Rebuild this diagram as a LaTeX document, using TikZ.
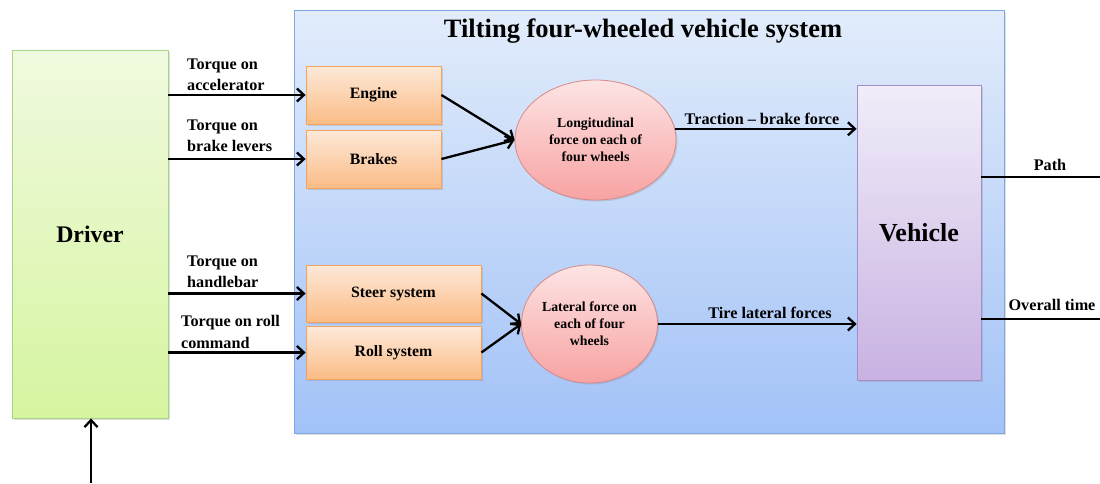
\documentclass[tikz,border=0pt]{standalone}
\usepackage{fontspec}
\setmainfont{Liberation Serif}
\usetikzlibrary{arrows.meta,shapes.geometric,shadows}
\definecolor{drvtop}{HTML}{F0FADF}
\definecolor{drvbot}{HTML}{D6F5A0}
\definecolor{drvline}{HTML}{ABD385}
\definecolor{systop}{HTML}{E2ECFB}
\definecolor{sysbot}{HTML}{A2C2F7}
\definecolor{sysline}{HTML}{7EA6E0}
\definecolor{subtop}{HTML}{FDE9D9}
\definecolor{subbot}{HTML}{FBBC86}
\definecolor{subline}{HTML}{F3A35E}
\definecolor{elltop}{HTML}{FDE4E4}
\definecolor{ellbot}{HTML}{F8A2A2}
\definecolor{ellline}{HTML}{D88A8A}
\definecolor{vehtop}{HTML}{F1EDF9}
\definecolor{vehbot}{HTML}{C8B2E2}
\definecolor{vehline}{HTML}{A38EC8}
\tikzset{
  arr/.style={line width=2.3pt, -{Straight Barb[length=7pt,width=13pt,line width=2.3pt]}},
  link/.style={line width=2.3pt},
  boxshadow/.style={drop shadow={opacity=0.25,shadow xshift=1.5pt,shadow yshift=-1.5pt}},
  subsys/.style={draw=subline, line width=0.8pt, top color=subtop, bottom color=subbot,
    minimum width=135pt, minimum height=58pt, inner sep=0pt, boxshadow,
    font=\fontsize{15.8}{18}\selectfont\bfseries},
  force/.style={ellipse, draw=ellline, line width=0.8pt, top color=elltop, bottom color=ellbot,
    inner sep=0pt, align=center, boxshadow, font=\fontsize{13.8}{17}\selectfont\bfseries},
  lbl/.style={align=left, inner sep=0pt, font=\fontsize{16.2}{21.5}\selectfont\bfseries},
}
\begin{document}
\begin{tikzpicture}[x=1pt,y=-1pt]
\useasboundingbox (0,0) rectangle (1100,483);

% outer system frame
\node[draw=sysline, line width=0.8pt, top color=systop, bottom color=sysbot,
      minimum width=710pt, minimum height=423pt, inner sep=0pt, boxshadow] (sys) at (649,221.5) {};
\node[font=\fontsize{26.5}{30}\selectfont\bfseries] (title) at (643,31) {Tilting four-wheeled vehicle system};

% driver block
\node[draw=drvline, line width=0.8pt, top color=drvtop, bottom color=drvbot,
      minimum width=156pt, minimum height=368pt, inner sep=0pt, boxshadow,
      font=\fontsize{23.8}{28}\selectfont\bfseries] (driver) at (90,234) {Driver};

% subsystems
\node[subsys] (engine) at (373.5,95) {Engine};
\node[subsys] (brakes) at (373.5,159) {Brakes};
\node[subsys, minimum width=175pt, minimum height=57pt] (steer) at (393.5,293.5) {Steer system};
\node[subsys, minimum width=175pt, minimum height=53pt] (roll) at (393.5,352.5) {Roll system};

% force ellipses
\node[force, minimum width=161pt, minimum height=120pt] (long) at (595.5,140)
  {Longitudinal\\force on each of\\four wheels};
\node[force, minimum width=136pt, minimum height=118pt] (lat) at (589.5,324)
  {Lateral force on\\each of four\\wheels};

% vehicle block
\node[draw=vehline, line width=0.8pt, top color=vehtop, bottom color=vehbot,
      minimum width=124pt, minimum height=295pt, inner sep=0pt, boxshadow,
      font=\fontsize{26}{30}\selectfont\bfseries] (vehicle) at (919,232.5) {Vehicle};

% driver commands
\draw[arr] (driver.east |- engine.west) -- (engine.west);
\draw[arr] (driver.east |- brakes.west) -- (brakes.west);
\draw[arr] (driver.east |- steer.west) -- (steer.west);
\draw[arr] (driver.east |- roll.west) -- (roll.west);
\node[lbl, anchor=west] (l1) at (187,75) {Torque on\\accelerator};
\node[lbl, anchor=west] (l2) at (187,136) {Torque on\\brake levers};
\node[lbl, anchor=west] (l3) at (187,272) {Torque on\\handlebar};
\node[lbl, anchor=west] (l4) at (181,332) {Torque on roll\\command};

% subsystems to forces
\draw[arr] (engine.east) -- (long.west);
\draw[arr] (brakes.east) -- (long.west);
\draw[arr] (steer.east) -- (lat.west);
\draw[arr] (roll.east) -- (lat.west);

% forces to vehicle
\draw[arr] (long.8) -- (long.8 -| vehicle.west);
\node[lbl] (tb) at (762,119) {Traction -- brake force};
\draw[arr] (lat.east) -- (lat.east -| vehicle.west);
\node[lbl] (tl) at (770,313) {Tire lateral forces};

% outputs
\coordinate (pathend) at (1100,177);
\coordinate (timeend) at (1100,319);
\draw[link] (vehicle.east |- pathend) -- (pathend);
\draw[link] (vehicle.east |- timeend) -- (timeend);
\node[lbl] (po) at (1050,165) {Path};
\node[lbl] (to) at (1052,305) {Overall time};

% external input to driver
\coordinate (drvin) at (91,483);
\draw[arr] (drvin) -- (drvin |- driver.south);
\end{tikzpicture}
\end{document}
